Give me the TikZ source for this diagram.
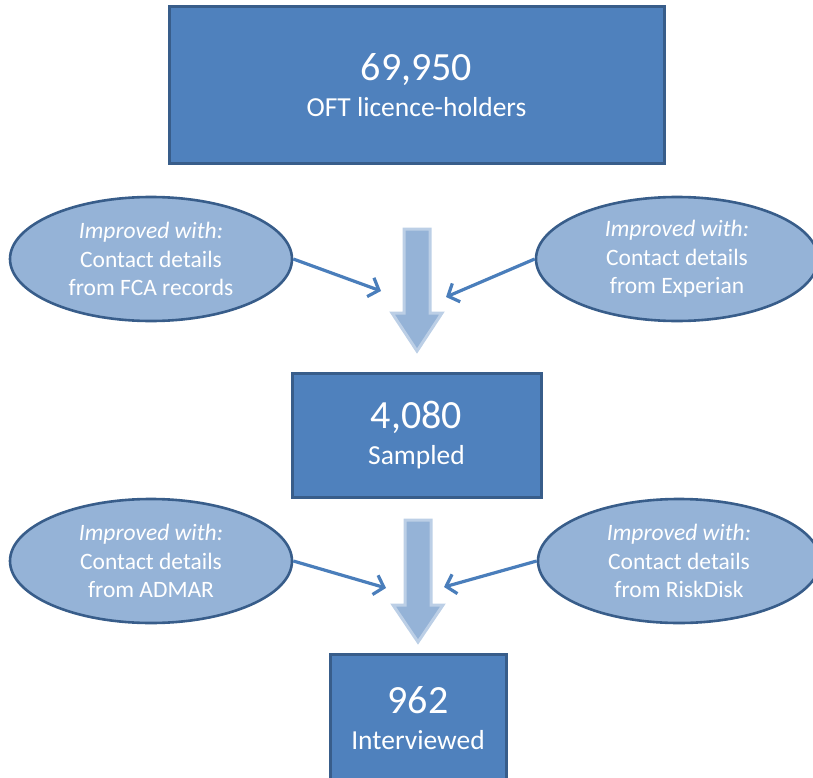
\documentclass[tikz,border=0pt]{standalone}
\usepackage{fontspec}
\setmainfont{Carlito}
\usetikzlibrary{arrows.meta,shapes.geometric}
\definecolor{boxblue}{RGB}{79,129,189}
\definecolor{boxline}{RGB}{56,93,138}
\definecolor{ovalblue}{RGB}{149,179,215}
\definecolor{flowblue}{RGB}{149,179,215}
\definecolor{flowline}{RGB}{188,207,230}
\definecolor{pointblue}{RGB}{74,126,187}
\begin{document}
\begin{tikzpicture}[x=1pt,y=-1pt,
  stage/.style={rectangle, fill=boxblue, draw=boxline, line width=3pt, text=white, align=center, inner sep=0pt, font=\fontsize{27.5}{36}\selectfont},
  source/.style={ellipse, fill=ovalblue, draw=boxline, line width=2.6pt, text=white, align=center, inner sep=0pt, minimum width=282pt, minimum height=124pt, font=\fontsize{23.5}{28.5}\selectfont},
  fatarrow/.style={fill=flowblue, draw=flowline, line width=3pt},
  pointer/.style={draw=pointblue, line width=3.2pt, -{Straight Barb[length=9pt,width=20pt]}}]
\useasboundingbox (0,0) rectangle (813,778);
\clip (0,0) rectangle (813,778);
\node [stage, minimum width=495pt, minimum height=157pt] (licence) at (416.5,85) {{\fontsize{40}{36}\selectfont 69,950}\\OFT licence-holders};
\node [stage, minimum width=249pt, minimum height=124pt] (sampled) at (416.5,435) {{\fontsize{40}{36}\selectfont 4,080}\\Sampled};
\node [stage, minimum width=176pt, minimum height=128pt] (interviewed) at (418,718) {{\fontsize{40}{36}\selectfont 962}\\Interviewed};
\node [source] (fca) at (151,259) {\textit{Improved with:}\\Contact details\\from FCA records};
\node [source] (experian) at (677,259) {\textit{Improved with:}\\Contact details\\from Experian};
\node [source] (admar) at (151,561) {\textit{Improved with:}\\Contact details\\from ADMAR};
\node [source] (riskdisk) at (679,561) {\textit{Improved with:}\\Contact details\\from RiskDisk};
\coordinate (flowtop1) at (417,229);
\coordinate (flowtop2) at (418,520);
\draw [fatarrow] (flowtop1) ++(-13,0) -- ++(0,84) -- ++(-12,0) -- ++(25,38) -- ++(25,-38) -- ++(-12,0) -- ++(0,-84) -- cycle;
\draw [fatarrow] (flowtop2) ++(-13,0) -- ++(0,85) -- ++(-12,0) -- ++(25,37) -- ++(25,-37) -- ++(-12,0) -- ++(0,-85) -- cycle;
\coordinate (hitfca) at (381,291);
\coordinate (hitexperian) at (446,297);
\coordinate (hitadmar) at (386,588);
\coordinate (hitriskdisk) at (444,587);
\draw [pointer] (fca.east) -- (hitfca);
\draw [pointer] (experian.west) -- (hitexperian);
\draw [pointer] (admar.east) -- (hitadmar);
\draw [pointer] (riskdisk.west) -- (hitriskdisk);
\end{tikzpicture}
\end{document}
